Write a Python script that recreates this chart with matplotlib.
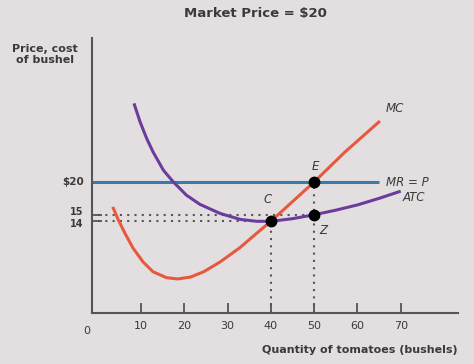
import matplotlib
matplotlib.use("Agg")
import matplotlib.pyplot as plt

# ---- data ----
price = 20
mc_q = [3.5, 4.8, 6.3, 8.2, 10.5, 12.8, 15.9, 18.5, 21.5, 24.5, 28.3, 32.9,
        37.5, 40, 45, 50, 57, 65.2]
mc_c = [16.2, 14.2, 12.2, 9.9, 7.8, 6.3, 5.4, 5.2, 5.5, 6.3, 7.8, 10.0,
        12.6, 14, 17, 20, 24.5, 29.3]
atc_q = [8.4, 9.8, 11.3, 12.8, 15.2, 17.5, 20.5, 23.6, 28.3, 32.9, 36.7, 40,
         45, 50, 55, 60, 65, 70]
atc_c = [32.0, 29.2, 26.7, 24.6, 21.8, 20.0, 18.0, 16.6, 15.2, 14.3, 14.0, 14,
         14.4, 15, 15.7, 16.5, 17.5, 18.6]
mr_q = [-1.3, 65]
points = {"C": (40, 14), "E": (50, 20), "Z": (50, 15)}
xticks = [10, 20, 30, 40, 50, 60, 70]
yticks = [14, 15, 20]
ytick_labels = ["14", "15", "$20"]

bg = "#e3dfe0"
axc = "#555555"
txt = "#3a3a3a"

fig = plt.figure(figsize=(4.74, 3.64), dpi=100, facecolor=bg)
ax = fig.add_axes([0.194, 0.140, 0.772, 0.756], facecolor=bg)
ax.set_xlim(-1.3, 83.2)
ax.set_ylim(0, 42)

for s in ["top", "right"]:
    ax.spines[s].set_visible(False)
for s in ["left", "bottom"]:
    ax.spines[s].set_color(axc)
    ax.spines[s].set_linewidth(1.5)

ax.set_xticks(xticks)
ax.set_xticklabels([str(v) for v in xticks])
ax.set_yticks(yticks)
ax.set_yticklabels([])
ax.tick_params(axis="x", direction="in", length=7, width=1.3, color=axc,
               labelsize=8, labelcolor=txt, pad=6)
ax.tick_params(axis="y", direction="in", length=7, width=1.3, color=axc)
# y tick labels (14 and 15 nudged apart as in the reference)
ynudge = {14: -0.45, 15: 0.45, 20: 0.0}
ysize = {14: 7, 15: 7, 20: 7.5}
for v, lab in zip(yticks, ytick_labels):
    ax.text(-0.022, v + ynudge[v], lab, transform=ax.get_yaxis_transform(),
            ha="right", va="center", fontsize=ysize[v], fontweight="bold",
            color=txt)
ax.text(-2.4, -0.047, "0", transform=ax.get_xaxis_transform(), ha="center",
        va="top", fontsize=8, color=txt)

# dotted guide lines
dot = dict(color=axc, linewidth=1.5, linestyle=(0, (1, 2.5)))
ax.plot([0, points["Z"][0]], [points["Z"][1]] * 2, **dot)
ax.plot([0, points["C"][0]], [points["C"][1]] * 2, **dot)
ax.plot([points["C"][0]] * 2, [0, points["C"][1]], **dot)
ax.plot([points["E"][0]] * 2, [0, points["E"][1]], **dot)

# curves
ax.plot(mr_q, [price, price], color="#3b7aa6", linewidth=2.2, solid_capstyle="butt")
ax.plot(atc_q, atc_c, color="#6b3c9c", linewidth=2.2, solid_capstyle="butt",
        solid_joinstyle="round")
ax.plot(mc_q, mc_c, color="#e8583f", linewidth=2.2, solid_capstyle="butt",
        solid_joinstyle="round")

for k, (x, y) in points.items():
    ax.plot(x, y, "o", color="black", markersize=7.5, zorder=5)

lab = dict(fontsize=8.5, style="italic", color=txt)
ax.text(39.3, 16.3, "C", ha="center", va="bottom", **lab)
ax.text(50.2, 21.3, "E", ha="center", va="bottom", **lab)
ax.text(51.3, 13.6, "Z", ha="left", va="top", **lab)
ax.text(66.5, 30.3, "MC", ha="left", va="bottom", **lab)
ax.text(66.5, 20, "MR = P", ha="left", va="center", **lab)
ax.text(70.5, 17.6, "ATC", ha="left", va="center", **lab)

fig.text(0.538, 0.962, "Market Price = $20", ha="center", va="center",
         fontsize=9.5, fontweight="bold", color=txt)
fig.text(0.095, 0.85, "Price, cost\nof bushel", ha="center", va="center",
         fontsize=8, fontweight="bold", color=txt, linespacing=1.1)
fig.text(0.966, 0.038, "Quantity of tomatoes (bushels)", ha="right",
         va="center", fontsize=8, fontweight="bold", color=txt)

fig.savefig("out.png", dpi=100, facecolor=bg)
